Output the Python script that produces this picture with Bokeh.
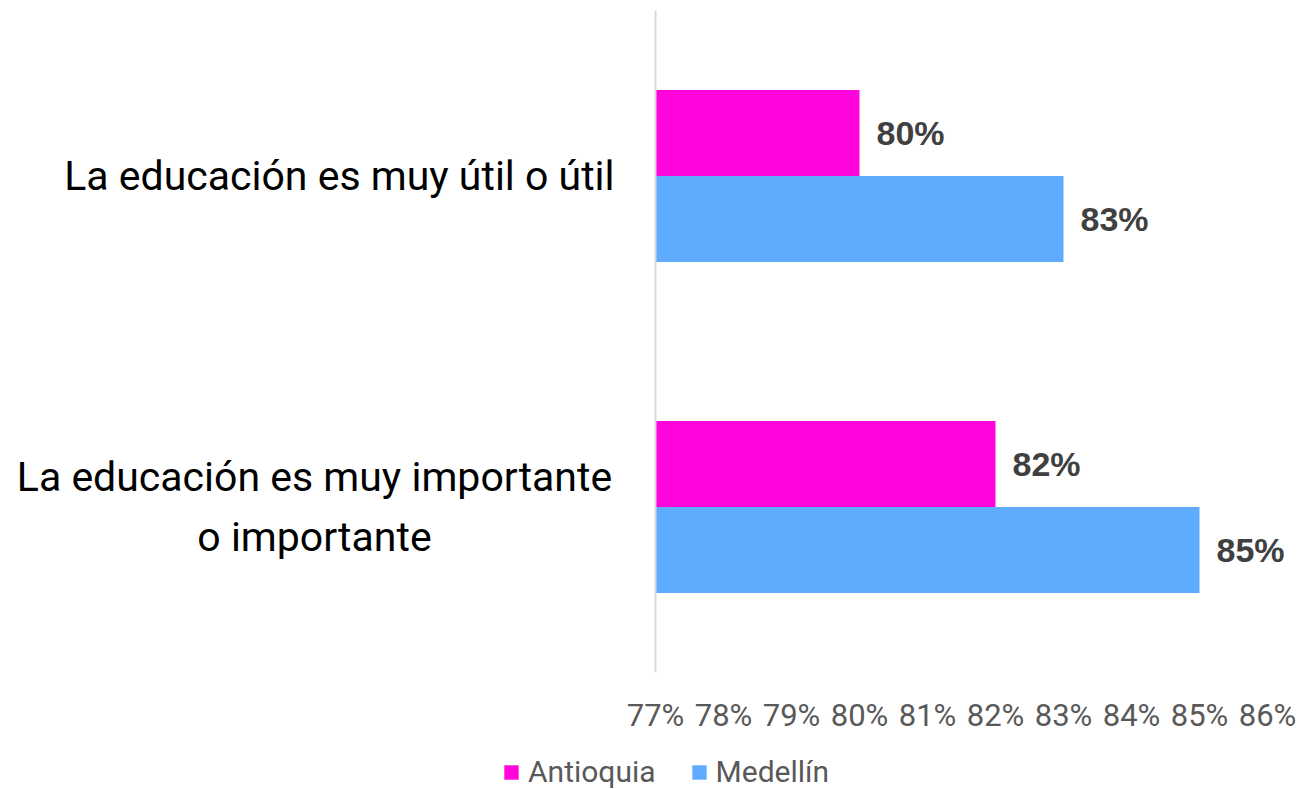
from bokeh.plotting import figure
from bokeh.layouts import column
from bokeh.core.properties import value
from bokeh.models import (Range1d, FixedTicker, Label, LabelSet, ColumnDataSource,
                          Legend, LegendItem, Span)
from bokeh.embed import file_html
from bokeh.resources import INLINE

categories = ["La educación es muy útil o útil",
              "La educación es muy importante\no importante"]
series = ["Antioquia", "Medellín"]
antioquia = [80, 82]
medellin = [83, 85]
ticks = [77, 78, 79, 80, 81, 82, 83, 84, 85, 86]

PINK = "#FF05DB"
BLUE = "#5FABFE"
FONT = "Roboto"

W, H, HL = 1300, 740, 49
AXIS_PX = 655          # screen x of the value axis (77%)
RIGHT_PX = 1267        # screen x of 86%
px_per_unit = (RIGHT_PX - AXIS_PX) / (ticks[-1] - ticks[0])
x_start = ticks[0] - AXIS_PX / px_per_unit
x_end = ticks[-1] + (W - RIGHT_PX) / px_per_unit

n = len(categories)
cat_y = [n - i - 0.5 for i in range(n)]
bar_h = 0.26
half = bar_h / 2

p = figure(width=W, height=H, output_backend="svg", toolbar_location=None,
           x_range=Range1d(x_start, x_end), y_range=Range1d(0, n),
           min_border_left=0, min_border_right=0, min_border_top=10,
           min_border_bottom=H - 672)
p.outline_line_color = None
p.xgrid.visible = False
p.ygrid.visible = False
p.yaxis.visible = False

p.add_layout(Span(location=ticks[0], dimension="height", line_color="#D9D9D9",
                  line_width=2))

src_a = ColumnDataSource(dict(y=[c + half for c in cat_y], v=antioquia,
                              t=[f"{v}%" for v in antioquia]))
src_m = ColumnDataSource(dict(y=[c - half for c in cat_y], v=medellin,
                              t=[f"{v}%" for v in medellin]))

p.hbar(y="y", left=ticks[0], right="v", height=bar_h, source=src_a,
       fill_color=PINK, line_color=None)
p.hbar(y="y", left=ticks[0], right="v", height=bar_h, source=src_m,
       fill_color=BLUE, line_color=None)

for src in (src_a, src_m):
    p.add_layout(LabelSet(x="v", y="y", text="t", source=src, x_offset=17,
                          text_align="left", text_baseline="middle",
                          text_font=value("Liberation Sans"),
                          text_font_style="bold",
                          text_font_size="34px", text_color="#404040"))

# x axis
xa = p.xaxis[0]
xa.ticker = FixedTicker(ticks=ticks)
xa.major_label_overrides = {t: f"{t}%" for t in ticks}
xa.axis_line_color = None
xa.major_tick_line_color = None
xa.minor_tick_line_color = None
xa.major_tick_out = 0
xa.major_label_standoff = 24
xa.major_label_text_font = FONT
xa.major_label_text_font_size = "31px"
xa.major_label_text_color = "#595959"

# category labels
aligns = ["right", "center"]
offsets = [-41, -341]
for cat, y, al, off in zip(categories, cat_y, aligns, offsets):
    p.add_layout(Label(x=ticks[0], y=y, text=cat, x_offset=off,
                       text_align=al, text_baseline="middle",
                       text_font=FONT, text_font_size="41px",
                       text_color="#000000", text_line_height=1.27))

# legend strip (same sources, drawn outside its visible range)
pl = figure(width=W, height=HL, output_backend="svg", toolbar_location=None,
            x_axis_type=None, y_axis_type=None, x_range=Range1d(0, 1),
            y_range=Range1d(100, 101), min_border_left=0, min_border_right=0,
            min_border_top=0, min_border_bottom=0)
pl.outline_line_color = None
pl.xgrid.visible = False
pl.ygrid.visible = False
la = pl.hbar(y="y", left=ticks[0], right="v", height=bar_h, source=src_a,
             fill_color=PINK, line_color=None)
lm = pl.hbar(y="y", left=ticks[0], right="v", height=bar_h, source=src_m,
             fill_color=BLUE, line_color=None)
legend = Legend(items=[LegendItem(label=series[0], renderers=[la]),
                       LegendItem(label=series[1], renderers=[lm])],
                orientation="horizontal", location=(502, 0),
                border_line_color=None, background_fill_alpha=0,
                glyph_width=18, glyph_height=18, label_standoff=8, spacing=34,
                padding=0, margin=0, label_text_font=FONT,
                label_text_font_size="30px", label_text_color="#595959")
pl.add_layout(legend, "center")

open("out.html", "w").write(file_html(column(p, pl), INLINE))
